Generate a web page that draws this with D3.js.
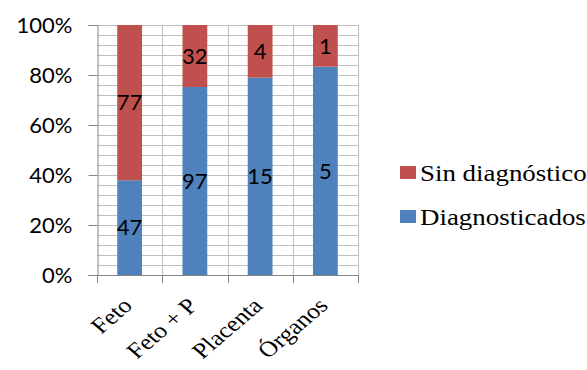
<!DOCTYPE html>
<html>
<head>
<meta charset="utf-8">
<script src="https://cdn.jsdelivr.net/npm/d3@7"></script>
<style>
  html, body { margin: 0; padding: 0; background: #fff; }
  svg { display: block; }
  .serif { font-family: "Liberation Serif", "Times New Roman", serif; }
  .sans { font-family: Lato, "Liberation Sans", sans-serif; }
</style>
</head>
<body>
<svg id="chart" width="587" height="370"></svg>
<script>
// Sample types and counts per diagnostic outcome
const categories = ["Feto", "Feto + P", "Placenta", "Órganos"];
const diagnosticados = [47, 97, 15, 5];
const sinDiagnostico = [77, 32, 4, 1];
const seriesNames = ["Diagnosticados", "Sin diagnóstico"];
const yTickValues = [0, 0.2, 0.4, 0.6, 0.8, 1.0];

const colors = { "Diagnosticados": "#4F81BD", "Sin diagnóstico": "#C0504D" };
const wide = 1.17; // horizontal stretch applied to serif text

const rows = categories.map((c, i) => ({
  cat: c,
  "Diagnosticados": diagnosticados[i],
  "Sin diagnóstico": sinDiagnostico[i]
}));

const stacked = d3.stack()
  .keys(seriesNames)
  .offset(d3.stackOffsetExpand)(rows);

const svg = d3.select("#chart");
const plot = { left: 97, right: 358, top: 25, bottom: 275 };

const x = d3.scaleBand().domain(categories).range([plot.left, plot.right]).paddingInner(0.62).paddingOuter(0.31);
const xOuter = d3.scaleBand().domain(categories).range([plot.left, plot.right]);
const y = d3.scaleLinear().domain([0, 1]).range([plot.bottom, plot.top]);

// Minor horizontal gridlines every 4%
const gridVals = d3.range(1, 26).map(k => k * 0.04);
svg.append("g").selectAll("line").data(gridVals).join("line")
  .attr("x1", plot.left).attr("x2", plot.right)
  .attr("y1", d => Math.round(y(d)) + 0.5).attr("y2", d => Math.round(y(d)) + 0.5)
  .attr("stroke", "#BFBFBF").attr("stroke-width", 1);

// Vertical gridlines at category boundaries
const bounds = categories.map(c => xOuter(c)).concat([plot.right]);
svg.append("g").selectAll("line").data(bounds.slice(1)).join("line")
  .attr("x1", d => Math.round(d) + 0.5).attr("x2", d => Math.round(d) + 0.5)
  .attr("y1", plot.top).attr("y2", plot.bottom)
  .attr("stroke", "#BFBFBF").attr("stroke-width", 1);

// Stacked bars
const layers = svg.append("g").selectAll("g").data(stacked).join("g")
  .attr("fill", d => colors[d.key]);
layers.selectAll("rect").data(d => d.map(p => ({ p, key: d.key }))).join("rect")
  .attr("x", d => x(d.p.data.cat))
  .attr("width", x.bandwidth())
  .attr("y", d => y(d.p[1]))
  .attr("height", d => y(d.p[0]) - y(d.p[1]));

// Count labels centred in each segment
layers.selectAll("text").data(d => d.map(p => ({ p, key: d.key }))).join("text")
  .attr("class", "sans")
  .attr("x", d => x(d.p.data.cat) + x.bandwidth() / 2)
  .attr("y", d => (y(d.p[0]) + y(d.p[1])) / 2)
  .attr("dy", "0.35em")
  .attr("text-anchor", "middle")
  .attr("font-size", 22)
  .attr("fill", "#000")
  .text(d => d.p.data[d.key]);

// Y axis
const yAxis = d3.axisLeft(y).tickValues(yTickValues).tickFormat(d3.format(".0%")).tickSize(9).tickPadding(16);
const yg = svg.append("g").attr("transform", `translate(${plot.left + 0.5},0)`).call(yAxis)
  .attr("font-family", null).attr("font-size", null);
yg.select(".domain").attr("stroke", "#868686");
yg.selectAll(".tick line").attr("stroke", "#868686");
yg.selectAll(".tick text").attr("class", "sans").attr("font-size", 22).attr("fill", "#000");

// X axis baseline and ticks at category boundaries
svg.append("line").attr("x1", plot.left).attr("x2", plot.right)
  .attr("y1", plot.bottom + 0.5).attr("y2", plot.bottom + 0.5).attr("stroke", "#868686");
svg.append("g").selectAll("line").data(bounds).join("line")
  .attr("x1", d => Math.round(d) + 0.5).attr("x2", d => Math.round(d) + 0.5)
  .attr("y1", plot.bottom).attr("y2", plot.bottom + 8)
  .attr("stroke", "#868686");

// Rotated category labels
svg.append("g").selectAll("text").data(categories).join("text")
  .attr("class", "serif")
  .attr("transform", d => `translate(${x(d) + x.bandwidth() / 2 + 4},${plot.bottom + 32}) scale(${wide},1) rotate(-45)`)
  .attr("text-anchor", "end")
  .attr("font-size", 22)
  .attr("fill", "#000")
  .text(d => d);

// Legend
const legendItems = ["Sin diagnóstico", "Diagnosticados"];
const lg = svg.append("g").selectAll("g").data(legendItems).join("g")
  .attr("transform", (d, i) => `translate(400,${166 + i * 44})`);
lg.append("rect").attr("width", 16).attr("height", 13).attr("fill", d => colors[d]);
lg.append("text")
  .attr("class", "serif")
  .attr("transform", `translate(20,15) scale(${wide},1)`)
  .attr("font-size", 23)
  .attr("fill", "#000")
  .text(d => d);
</script>
</body>
</html>
